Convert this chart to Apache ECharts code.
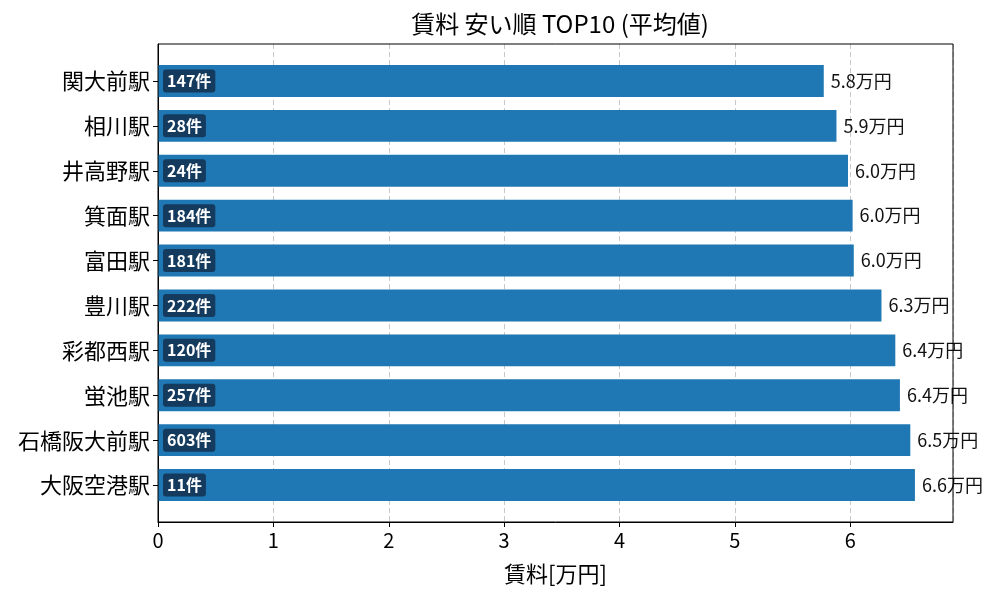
<!DOCTYPE html>
<html>
<head>
<meta charset="utf-8">
<script src="https://cdn.jsdelivr.net/npm/echarts@6/dist/echarts.min.js"></script>
<style>
  html, body { margin: 0; padding: 0; background: #fff; }
  #chart { width: 1000px; height: 600px; }
</style>
</head>
<body>
<div id="chart"></div>
<script>
// station names, top to bottom
const stations = ["関大前駅", "相川駅", "井高野駅", "箕面駅", "富田駅", "豊川駅", "彩都西駅", "蛍池駅", "石橋阪大前駅", "大阪空港駅"];
const rents = [5.77, 5.88, 5.98, 6.02, 6.03, 6.27, 6.39, 6.43, 6.52, 6.56];
// number of listings
const counts = [147, 28, 24, 184, 181, 222, 120, 257, 603, 11];
const xTicks = [0, 1, 2, 3, 4, 5, 6];
const xMax = 6.89;

const font = '"Noto Sans CJK JP", "Noto Sans", sans-serif';

const chart = echarts.init(document.getElementById("chart"));

chart.setOption({
    animation: false,
    textStyle: { fontFamily: font },
    title: {
        text: "賃料 安い順 TOP10 (平均値)",
        left: 555,
        textAlign: "center",
        top: 7,
        textStyle: { fontFamily: font, fontSize: 24, fontWeight: "normal", color: "#000" }
    },
    // grid 0: frame, x axis and grid lines; grid 1: bars with matplotlib-like margins
    grid: [
        { left: 158, right: 47, top: 44, bottom: 78 },
        { left: 158, right: 47, top: 58.5, bottom: 92.5 }
    ],
    graphic: [{
        type: "rect",
        z: 100,
        silent: true,
        shape: { x: 158, y: 44, width: 795, height: 478 },
        style: { fill: "none", stroke: "#000", lineWidth: 1 }
    }],
    xAxis: [
        {
            gridIndex: 0,
            type: "value",
            min: 0,
            max: xMax,
            interval: 1,
            name: "賃料[万円]",
            nameLocation: "middle",
            nameGap: 41,
            nameTextStyle: { fontFamily: font, fontSize: 22, color: "#000" },
            axisLine: { show: true, lineStyle: { color: "#000" } },
            axisTick: { show: true, length: 5, lineStyle: { color: "#000" } },
            axisLabel: {
                fontFamily: font, fontSize: 20, color: "#000", margin: 8,
                showMaxLabel: false,
                formatter: v => (xTicks.includes(v) ? String(v) : "")
            },
            splitLine: { show: true, lineStyle: { color: "#c8c8c8", type: [5, 3] } }
        },
        {
            gridIndex: 1,
            type: "value",
            min: 0,
            max: xMax,
            show: false
        }
    ],
    yAxis: [
        {
            gridIndex: 0,
            type: "value",
            min: 0,
            max: 1,
            axisLine: { show: true, lineStyle: { color: "#000" } },
            axisTick: { show: false },
            axisLabel: { show: false },
            splitLine: { show: false }
        },
        {
            gridIndex: 1,
            type: "category",
            data: stations,
            inverse: true,
            axisLine: { show: false },
            axisTick: { show: true, alignWithLabel: true, length: 5, lineStyle: { color: "#000" } },
            axisLabel: { fontFamily: font, fontSize: 22, color: "#000", margin: 8 }
        }
    ],
    series: [
        {
            type: "bar",
            xAxisIndex: 1,
            yAxisIndex: 1,
            data: rents,
            barWidth: "71%",
            itemStyle: { color: "#1f77b4" },
            label: {
                show: true,
                position: "right",
                distance: 7,
                fontFamily: font,
                fontSize: 18,
                color: "#111",
                formatter: p => p.value.toFixed(1) + "万円"
            },
            z: 2
        },
        {
            type: "bar",
            xAxisIndex: 1,
            yAxisIndex: 1,
            data: rents,
            barWidth: "71%",
            barGap: "-100%",
            itemStyle: { color: "transparent" },
            label: {
                show: true,
                position: "insideLeft",
                distance: 5,
                fontFamily: font,
                fontSize: 16,
                fontWeight: "bold",
                color: "#fff",
                backgroundColor: "rgba(18, 45, 75, 0.82)",
                borderRadius: 3,
                padding: [4, 4, 3, 4],
                formatter: p => counts[p.dataIndex] + "件"
            },
            z: 3
        }
    ]
});
</script>
</body>
</html>
